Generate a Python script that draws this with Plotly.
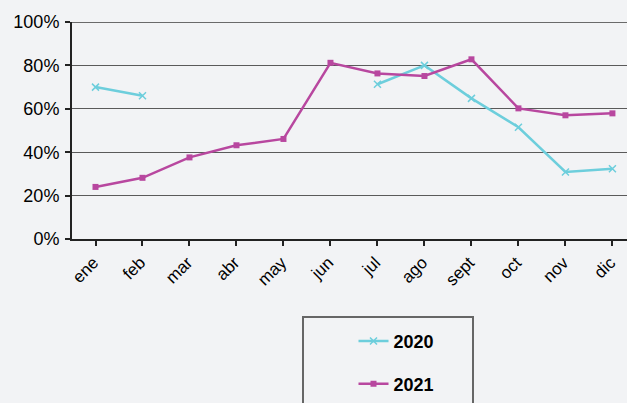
import plotly.graph_objects as go

months = ["ene", "feb", "mar", "abr", "may", "jun", "jul", "ago", "sept", "oct", "nov", "dic"]
y2020 = [0.70, 0.66, None, None, None, None, 0.713, 0.80, 0.648, 0.515, 0.309, 0.324]
y2021 = [0.24, 0.282, 0.376, 0.432, 0.461, 0.812, 0.763, 0.751, 0.828, 0.602, 0.570, 0.579]
y_ticks = [0, 0.2, 0.4, 0.6, 0.8, 1.0]
y_ticktext = ["0%", "20%", "40%", "60%", "80%", "100%"]

BG = "#F2F3F5"
C2020 = "#6DCEDC"
C2021 = "#B8479F"
FONT = "Liberation Sans, Arial, sans-serif"

fig = go.Figure()
fig.add_trace(go.Scatter(
    x=list(range(len(months))), y=y2020, name="2020", mode="lines+markers",
    line=dict(color=C2020, width=2.5), marker=dict(symbol="x-thin", size=7, color=C2020,
    line=dict(color=C2020, width=1.5)), connectgaps=False, legendgroup="a"))
fig.add_trace(go.Scatter(
    x=list(range(len(months))), y=y2021, name="2021", mode="lines+markers",
    line=dict(color=C2021, width=2.5), marker=dict(symbol="square", size=6, color=C2021),
    legendgroup="b"))

fig.update_layout(
    width=627, height=403,
    margin=dict(l=72, r=0, t=22, b=164),
    paper_bgcolor=BG, plot_bgcolor=BG,
    font=dict(family=FONT, size=18, color="black"),
    showlegend=True,
    legend=dict(x=0.5 + 4 / 555, y=-0.386, xanchor="left", yanchor="top",
                font=dict(size=18, family=FONT, color="black", weight="bold"),
                bgcolor="rgba(0,0,0,0)", tracegroupgap=16.5, traceorder="grouped"),
    xaxis=dict(range=[-0.5, 11.31], tickmode="array", tickvals=list(range(len(months))),
               ticktext=months, tickangle=-45, showgrid=False, showline=True,
               linecolor="#222", linewidth=2, ticks="outside", ticklen=5, tickcolor="#222",
               tickwidth=1.5, tickson="boundaries", zeroline=False, ticklabelshift=-2,
               tickfont=dict(size=17)),
    yaxis=dict(range=[0, 1.0], tickmode="array", tickvals=y_ticks, ticktext=y_ticktext,
               showgrid=True, gridcolor="#5a5a5a", gridwidth=1.2, showline=True,
               linecolor="#222", linewidth=2, ticks="outside", ticklen=5, tickcolor="#222",
               tickwidth=1.5, zeroline=False, ticklabelstandoff=2),
)

# top (100%) gridline
fig.add_shape(type="line", xref="paper", yref="y", x0=0, x1=1, y0=1.0, y1=1.0,
              line=dict(color="#6a6a6a", width=2), layer="below")

# legend frame
fig.add_shape(type="rect", xref="paper", yref="paper",
              x0=(303 - 72) / 555, x1=(473 - 72) / 555, y0=-1.0, y1=(239 - 317) / 217,
              line=dict(color="#666", width=2), fillcolor="rgba(0,0,0,0)")

fig.write_html("out.html", post_script="document.body.style.margin='0px';",
               config={"displayModeBar": False})
